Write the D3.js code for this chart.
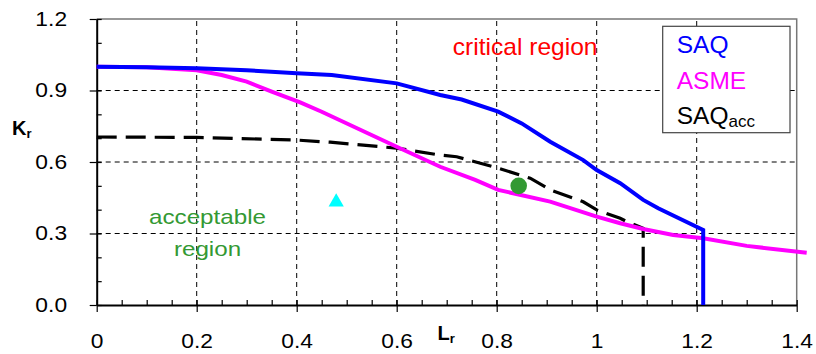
<!DOCTYPE html>
<html>
<head>
<meta charset="utf-8">
<script src="https://cdn.jsdelivr.net/npm/d3@7"></script>
<style>
  body { margin: 0; background: #fff; }
  svg { display: block; }
  text { font-family: "Liberation Sans", Arial, sans-serif; }
</style>
</head>
<body>
<div id="chart"></div>
<script>
// curves (Lr, Kr)
const saqLr  = [0, 0.1, 0.2, 0.3, 0.4, 0.47, 0.6, 0.687, 0.73, 0.803, 0.85, 0.907, 0.973, 1.0, 1.047, 1.093, 1.123, 1.213, 1.213];
const saqKr  = [1.0, 0.998, 0.993, 0.985, 0.972, 0.965, 0.93, 0.881, 0.862, 0.811, 0.762, 0.685, 0.608, 0.566, 0.511, 0.441, 0.406, 0.315, 0];

const asmeLr = [0, 0.1, 0.2, 0.25, 0.3, 0.35, 0.407, 0.45, 0.6, 0.687, 0.757, 0.803, 0.907, 1.0, 1.047, 1.093, 1.153, 1.213, 1.3, 1.42];
const asmeKr = [1.0, 0.998, 0.985, 0.965, 0.937, 0.895, 0.85, 0.811, 0.664, 0.58, 0.525, 0.483, 0.434, 0.371, 0.343, 0.319, 0.294, 0.28, 0.248, 0.219];

const accLr  = [0, 0.2, 0.4, 0.467, 0.6, 0.687, 0.72, 0.803, 0.867, 0.907, 0.973, 1.0, 1.047, 1.06, 1.093, 1.093];
const accKr  = [0.705, 0.703, 0.692, 0.683, 0.658, 0.629, 0.622, 0.574, 0.532, 0.483, 0.433, 0.399, 0.364, 0.35, 0.322, 0];

const circlePt   = [0.844, 0.50];
const trianglePt = [0.479, 0.432];

const xTicks = [0, 0.2, 0.4, 0.6, 0.8, 1, 1.2, 1.4];
const yTicks = [0, 0.3, 0.6, 0.9, 1.2];
const legendNames = ["SAQ", "ASME", "SAQ"];

const width = 816, height = 354;
const margin = {top: 19, right: 19.3, bottom: 49, left: 96.7};

const svg = d3.select("#chart").append("svg")
  .attr("width", width)
  .attr("height", height);

const x = d3.scaleLinear().domain([0, 1.4]).range([margin.left, width - margin.right]);
const y = d3.scaleLinear().domain([0, 1.2]).range([height - margin.bottom, margin.top]);

// text that is a bit wider than the font (the original was stretched)
function addText(px, py, str, size, color, sx, anchor, weight) {
  return svg.append("text")
    .attr("transform", "translate(" + px + "," + py + ") scale(" + sx + ",1)")
    .attr("font-size", size)
    .attr("fill", color)
    .attr("text-anchor", anchor || "start")
    .attr("font-weight", weight || "normal")
    .text(str);
}

// dashed grid
svg.append("g").selectAll("line")
  .data([0.2, 0.4, 0.6, 0.8, 1.0, 1.2])
  .enter().append("line")
  .attr("x1", d => x(d)).attr("x2", d => x(d))
  .attr("y1", y(0)).attr("y2", y(1.2))
  .attr("stroke", "#000").attr("stroke-width", 1)
  .attr("stroke-dasharray", "5,4");

svg.append("g").selectAll("line")
  .data([0.3, 0.6, 0.9])
  .enter().append("line")
  .attr("x1", x(0)).attr("x2", x(1.4))
  .attr("y1", d => y(d)).attr("y2", d => y(d))
  .attr("stroke", "#000").attr("stroke-width", 1)
  .attr("stroke-dasharray", "5,4");

// top and right border
svg.append("path")
  .attr("d", "M" + x(0) + "," + y(1.2) + "H" + x(1.4) + "V" + y(0))
  .attr("fill", "none")
  .attr("stroke", "#777")
  .attr("stroke-width", 1.5);

// axes: majors point out, minors point in
const xMinor = svg.append("g")
  .attr("transform", "translate(0," + y(0) + ")")
  .call(d3.axisBottom(x).tickValues(d3.range(0, 1.401, 0.05)).tickSize(-5).tickFormat(""));
xMinor.select(".domain").remove();

const yMinor = svg.append("g")
  .attr("transform", "translate(" + x(0) + ",0)")
  .call(d3.axisLeft(y).tickValues(d3.range(0, 1.201, 0.1)).tickSize(-5).tickFormat(""));
yMinor.select(".domain").remove();

const xAxis = svg.append("g")
  .attr("transform", "translate(0," + y(0) + ")")
  .call(d3.axisBottom(x).tickValues(xTicks).tickSize(7).tickSizeOuter(0).tickPadding(22).tickFormat(d3.format("")));

const yAxis = svg.append("g")
  .attr("transform", "translate(" + x(0) + ",0)")
  .call(d3.axisLeft(y).tickValues(yTicks).tickSize(7).tickSizeOuter(0).tickPadding(19).tickFormat(d3.format(".1f")));

[xAxis, yAxis].forEach(function(g) {
  g.select(".domain").attr("stroke-width", 2);
  g.selectAll(".tick line").attr("stroke-width", 1.2);
  g.selectAll("text")
    .attr("font-size", 20)
    .attr("fill", "#000")
    .attr("font-family", "Liberation Sans, Arial, sans-serif")
    .attr("transform", "scale(1.14,1)");
});
xMinor.selectAll(".tick line").attr("stroke-width", 1.2);
yMinor.selectAll(".tick line").attr("stroke-width", 1.2);

// curves
const line = d3.line().x(d => x(d[0])).y(d => y(d[1]));

svg.append("path")
  .datum(d3.zip(accLr, accKr))
  .attr("d", line)
  .attr("fill", "none")
  .attr("stroke", "#000")
  .attr("stroke-width", 3.2)
  .attr("stroke-dasharray", "20,9");

svg.append("path")
  .datum(d3.zip(asmeLr, asmeKr))
  .attr("d", line)
  .attr("fill", "none")
  .attr("stroke", "#ff00ff")
  .attr("stroke-width", 4);

svg.append("path")
  .datum(d3.zip(saqLr, saqKr))
  .attr("d", line)
  .attr("fill", "none")
  .attr("stroke", "#0000ff")
  .attr("stroke-width", 4);

// the two points
svg.append("circle")
  .attr("cx", x(circlePt[0]))
  .attr("cy", y(circlePt[1]))
  .attr("r", 8.3)
  .attr("fill", "#339933");

svg.append("path")
  .attr("d", d3.symbol().type(d3.symbolTriangle).size(100))
  .attr("transform", "translate(" + x(trianglePt[0]) + "," + y(trianglePt[1]) + ")")
  .attr("fill", "#00ffff");

// region labels
addText(452.7, 55, "critical region", 23, "#ff0000", 1.07);
addText(207.5, 224, "acceptable", 20.5, "#339933", 1.18, "middle");
addText(207.5, 256, "region", 20.5, "#339933", 1.18, "middle");

// axis titles
const kr = addText(12, 135, "K", 20, "#000", 1, "start", "bold");
kr.append("tspan").attr("font-size", 13).attr("dy", 3).text("r");
const lr = addText(437.5, 340, "L", 20, "#000", 1, "start", "bold");
lr.append("tspan").attr("font-size", 13).attr("dy", 3).text("r");

// legend
svg.append("rect")
  .attr("x", 662.7).attr("y", 26.3)
  .attr("width", 127.3).attr("height", 106.4)
  .attr("fill", "#fff")
  .attr("stroke", "#444")
  .attr("stroke-width", 1.2);

const legendColors = ["#0000ff", "#ff00ff", "#000"];
legendNames.forEach(function(name, i) {
  const t = addText(676.7, 53.3 + i * 35.4, name, 24.5, legendColors[i], 1);
  if (i === 2) {
    t.append("tspan").attr("font-size", 17).attr("dy", 3).text("acc");
  }
});
</script>
</body>
</html>
